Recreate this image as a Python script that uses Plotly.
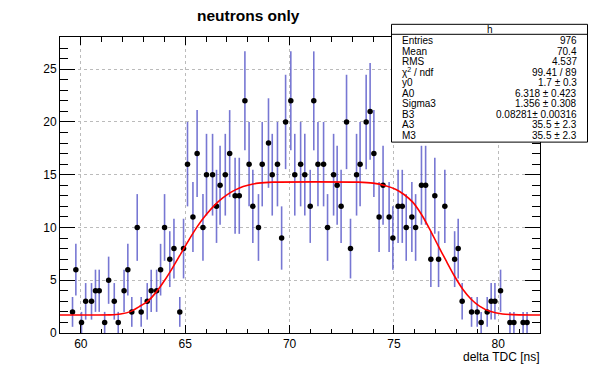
import plotly.graph_objects as go
import math

# ---- data ----
bin_x = [59.60, 59.76, 60.03, 60.23, 60.51, 60.70, 60.88, 61.14, 61.33, 61.60,
         61.79, 62.07, 62.25, 62.44, 62.70, 62.89, 63.18, 63.37, 63.63, 63.82,
         64.01, 64.26, 64.46, 64.74, 64.92, 65.11, 65.37, 65.57, 65.85, 66.02,
         66.31, 66.50, 66.67, 66.92, 67.13, 67.39, 67.59, 67.86, 68.06, 68.24,
         68.51, 68.69, 68.99, 69.17, 69.42, 69.62, 69.81, 70.06, 70.25, 70.53,
         70.73, 70.99, 71.16, 71.36, 71.63, 71.82, 72.11, 72.28, 72.47, 72.73,
         72.92, 73.21, 73.38, 73.67, 73.86, 74.04, 74.29, 74.48, 74.77, 74.95,
         75.20, 75.40, 75.59, 75.86, 76.04, 76.32, 76.52, 76.77, 76.96, 77.14,
         77.44, 77.91, 78.08, 78.27, 78.72, 78.99, 79.18, 79.47, 79.66, 79.84,
         80.11, 80.56, 80.75, 81.19, 81.38]
counts = [2, 6, 1, 3, 3, 4, 4, 1, 5, 3,
          1, 4, 6, 2, 10, 2, 3, 4, 4, 6,
          10, 7, 8, 2, 8, 16, 11, 17, 10, 15,
          15, 12, 14, 15, 17, 13, 13, 22, 16, 12,
          10, 16, 18, 15, 16, 9, 20, 22, 15, 16,
          15, 12, 22, 16, 16, 10, 15, 14, 12, 20,
          8, 15, 16, 20, 21, 17, 11, 14, 11, 9,
          12, 12, 10, 11, 10, 14, 14, 7, 13, 7,
          12, 7, 8, 3, 2, 2, 1, 2, 3, 3,
          4, 1, 1, 1, 1]

# fit curve
fit_x = [59.0, 60.5, 61.4, 61.9, 62.4, 62.8, 63.2, 63.6, 64.0, 64.4, 64.8, 65.2,
         65.6, 66.0, 66.4, 66.8, 67.2, 67.6, 68.0, 68.5, 69.2, 73.3, 74.0, 74.6,
         75.1, 75.5, 75.9, 76.3, 76.7, 77.1, 77.5, 77.9, 78.3, 78.7, 79.1, 79.6,
         80.2, 81.0, 82.0]
fit_y = [1.7, 1.7, 1.72, 1.8, 2.05, 2.5, 3.0, 3.85, 4.95, 6.2, 7.55, 8.9,
         10.15, 11.2, 12.1, 12.8, 13.35, 13.75, 14.0, 14.2, 14.3, 14.3, 14.2, 13.95,
         13.6, 13.1, 12.4, 11.3, 9.9, 8.35, 6.85, 5.4, 4.15, 3.2, 2.55, 2.05,
         1.8, 1.72, 1.7]

stat_labels = ["Entries", "Mean", "RMS", "χ<sup>2</sup> / ndf", "y0", "A0",
               "Sigma3", "B3", "A3", "M3"]
stat_values = ["976", "70.4", "4.537", "99.41 / 89", "1.7 ± 0.3", "6.318 ± 0.423",
               "1.356 ± 0.308", "0.08281± 0.00316", "35.5 ± 2.3", "35.5 ± 2.3"]

errs = [math.sqrt(c) for c in counts]

W, H = 600, 371
L, R, T, B = 60, 540, 37, 333.5


def px(x):
    return (x - L) / (R - L)


def py(y):
    return (B - y) / (B - T)


FONT = "Liberation Sans, Arial, Helvetica, sans-serif"

fig = go.Figure()
fig.add_trace(go.Scatter(
    x=bin_x, y=counts, mode="markers",
    marker=dict(color="black", size=5.5),
    error_y=dict(type="data", array=errs, visible=True, width=0,
                 thickness=1.6, color="rgba(85,85,200,0.8)"),
    showlegend=False, hoverinfo="skip"))
fig.add_trace(go.Scatter(
    x=fit_x, y=fit_y, mode="lines",
    line=dict(color="#ff0000", width=1.6, shape="spline", smoothing=0.6),
    showlegend=False, hoverinfo="skip"))

fig.update_layout(
    width=W, height=H,
    margin=dict(l=L, r=W - R, t=T, b=H - B, autoexpand=False),
    paper_bgcolor="white", plot_bgcolor="white",
    font=dict(family=FONT, size=12, color="black"),
    xaxis=dict(range=[59, 82], tickvals=[60, 65, 70, 75, 80],
               ticks="inside", ticklen=8, tickcolor="black",
               minor=dict(ticks="inside", ticklen=4.5, dtick=1, tickcolor="black",
                          showgrid=False),
               showline=True, linecolor="black", linewidth=1, mirror="allticks",
               showgrid=True, gridcolor="#bbbbbb", griddash="dot", gridwidth=1,
               zeroline=False, tickfont=dict(size=12)),
    yaxis=dict(range=[0, 28.05], tickvals=[0, 5, 10, 15, 20, 25],
               ticks="inside", ticklen=15, tickcolor="black",
               minor=dict(ticks="inside", ticklen=8, dtick=1, tickcolor="black",
                          showgrid=False),
               showline=True, linecolor="black", linewidth=1, mirror="allticks",
               showgrid=True, gridcolor="#bbbbbb", griddash="dot", gridwidth=1,
               zeroline=False, tickfont=dict(size=12)),
)

# title
fig.add_annotation(text="<b>neutrons only</b>", x=px(248), y=py(15), xref="paper",
                   yref="paper", showarrow=False, font=dict(size=15.5),
                   xanchor="center", yanchor="middle")
# x axis title
fig.add_annotation(text="delta TDC [ns]", x=px(540), y=py(358), xref="paper",
                   yref="paper", showarrow=False, font=dict(size=12),
                   xanchor="right", yanchor="middle", borderpad=0)

# stats box
bx0, bx1, by0, by1 = 391.5, 587.5, 24.3, 142.3
fig.add_shape(type="rect", xref="paper", yref="paper",
              x0=px(bx0), x1=px(bx1), y0=py(by1), y1=py(by0),
              line=dict(color="black", width=1), fillcolor="white", layer="above")
fig.add_shape(type="line", xref="paper", yref="paper",
              x0=px(bx0), x1=px(bx1), y0=py(34.3), y1=py(34.3),
              line=dict(color="black", width=1), layer="above")
fig.add_annotation(text="h", x=px((bx0 + bx1) / 2), y=py(29.3), xref="paper",
                   yref="paper", showarrow=False, font=dict(size=10),
                   xanchor="center", yanchor="middle")
for i, (lab, val) in enumerate(zip(stat_labels, stat_values)):
    yy = 40.9 + i * 10.5
    fig.add_annotation(text=lab, x=px(401), y=py(yy), xref="paper", yref="paper",
                       showarrow=False, font=dict(size=10), xanchor="left",
                       yanchor="middle", borderpad=0)
    fig.add_annotation(text=val, x=px(577.5), y=py(yy), xref="paper", yref="paper",
                       showarrow=False, font=dict(size=10), xanchor="right",
                       yanchor="middle", borderpad=0)

fig.write_html("out.html", config={"displayModeBar": False},
               post_script="document.body.style.margin='0';"
                           "document.body.style.overflow='hidden';")
